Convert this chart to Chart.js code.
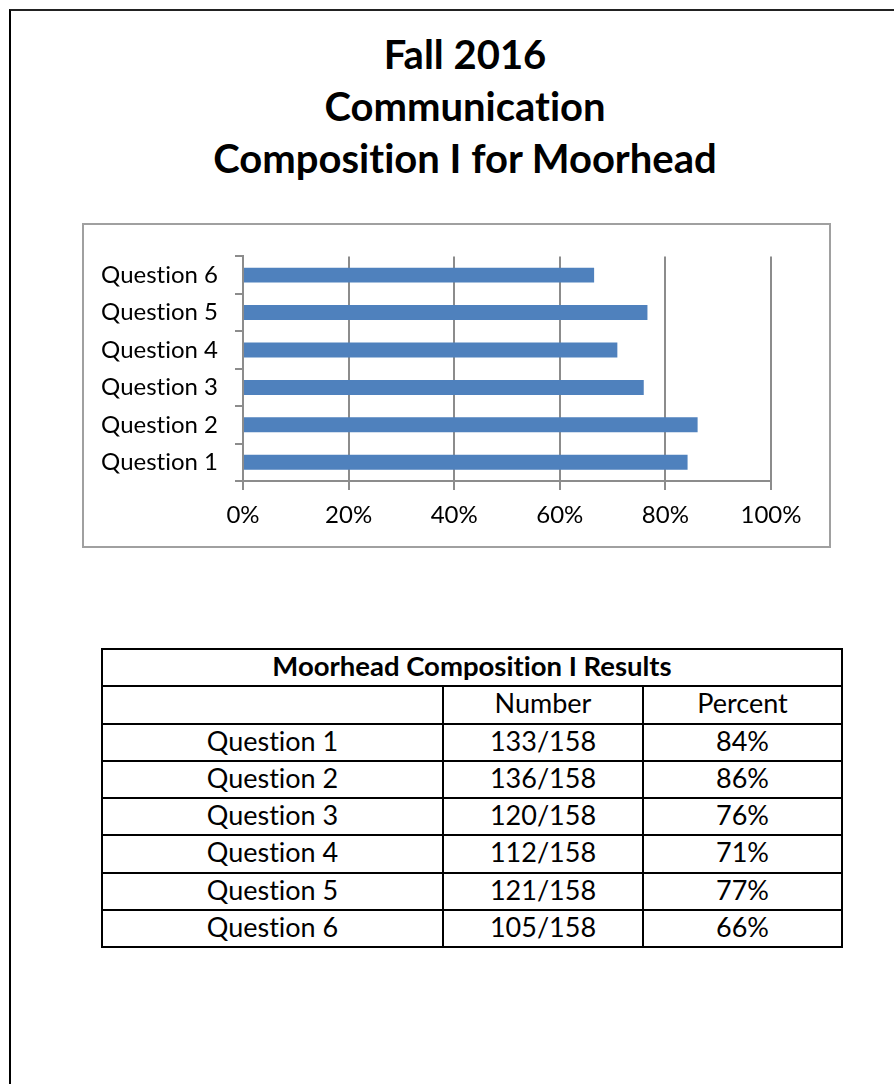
<!DOCTYPE html>
<html>
<head>
<meta charset="utf-8">
<script src="https://cdn.jsdelivr.net/npm/chart.js@4/dist/chart.umd.min.js"></script>
<style>
  html, body { margin: 0; padding: 0; background: #fff; }
  body { width: 894px; height: 1084px; position: relative; overflow: hidden; font-family: Lato, sans-serif; color: #000; font-variant-ligatures: none; }
  #page { position: absolute; left: 9px; top: 9px; width: 1000px; height: 1200px; border-top: 2px solid #222; border-left: 2px solid #000; }
  #title { position: absolute; left: 0; top: 28px; width: 930px; text-align: center; font-weight: bold; font-size: 40px; line-height: 52px; }
  #chartBox { position: absolute; left: 82px; top: 223px; width: 749px; height: 325px; box-sizing: border-box; border: 2px solid #a0a0a0; }
  #chart { position: absolute; left: 84px; top: 225px; }
  #results { position: absolute; left: 101px; top: 648px; border-collapse: collapse; table-layout: fixed; width: 740px; font-size: 27px; }
  #results td { border: 2px solid #000; padding: 2px 0 6px 0; text-align: center; height: 27.25px; line-height: 27px; }
  #results td.head { font-weight: bold; font-size: 27.5px; }
</style>
</head>
<body>
<div id="page"></div>
<div id="title">Fall 2016<br>Communication<br>Composition I for Moorhead</div>
<div id="chartBox"></div>
<canvas id="chart" width="745" height="321"></canvas>
<table id="results">
  <colgroup><col style="width:341px"><col style="width:200px"><col style="width:199px"></colgroup>
  <tbody id="resultsBody"></tbody>
</table>
<script>
const categories = ["Question 1", "Question 2", "Question 3", "Question 4", "Question 5", "Question 6"];
const percentValues = [84.2, 86.1, 75.9, 70.9, 76.6, 66.5];
const numberLabels = ["133/158", "136/158", "120/158", "112/158", "121/158", "105/158"];
const percentLabels = ["84%", "86%", "76%", "71%", "77%", "66%"];
const xTicks = [0, 20, 40, 60, 80, 100];

const axisGray = "#8c8c8c";
const labelFont = { family: "Lato", size: 24 };

function buildTable() {
  const body = document.getElementById("resultsBody");
  let html = '<tr><td class="head" colspan="3">Moorhead Composition I Results</td></tr>';
  html += '<tr><td></td><td>Number</td><td>Percent</td></tr>';
  categories.forEach((c, i) => {
    html += `<tr><td>${c}</td><td>${numberLabels[i]}</td><td>${percentLabels[i]}</td></tr>`;
  });
  body.innerHTML = html;
}

function renderChart() {
  const ctx = document.getElementById("chart");
  new Chart(ctx, {
    type: "bar",
    data: {
      labels: categories,
      datasets: [{
        data: percentValues,
        backgroundColor: "#4f81bd",
        barPercentage: 0.4,
        categoryPercentage: 1
      }]
    },
    options: {
      indexAxis: "y",
      responsive: false,
      animation: false,
      layout: { padding: { top: 28, right: 58, left: 0, bottom: 0 } },
      plugins: { legend: { display: false }, tooltip: { enabled: false } },
      scales: {
        x: {
          min: 0,
          max: 100,
          afterFit: s => { s.height = 65; },
          afterBuildTicks: s => { s.ticks = xTicks.map(v => ({ value: v })); },
          ticks: { callback: v => v + "%", font: labelFont, color: "#000", padding: 11, maxRotation: 0 },
          grid: { color: axisGray, lineWidth: 2, tickLength: 9 },
          border: { color: axisGray, width: 2 }
        },
        y: {
          reverse: true,
          afterFit: s => { s.width = 159; },
          ticks: { font: labelFont, color: "#000", padding: 17 },
          grid: { drawOnChartArea: false, offset: true, color: axisGray, lineWidth: 2, tickLength: 8 },
          border: { color: axisGray, width: 2 }
        }
      }
    }
  });
}

window.addEventListener("DOMContentLoaded", () => {
  buildTable();
  renderChart();
});
</script>
</body>
</html>
